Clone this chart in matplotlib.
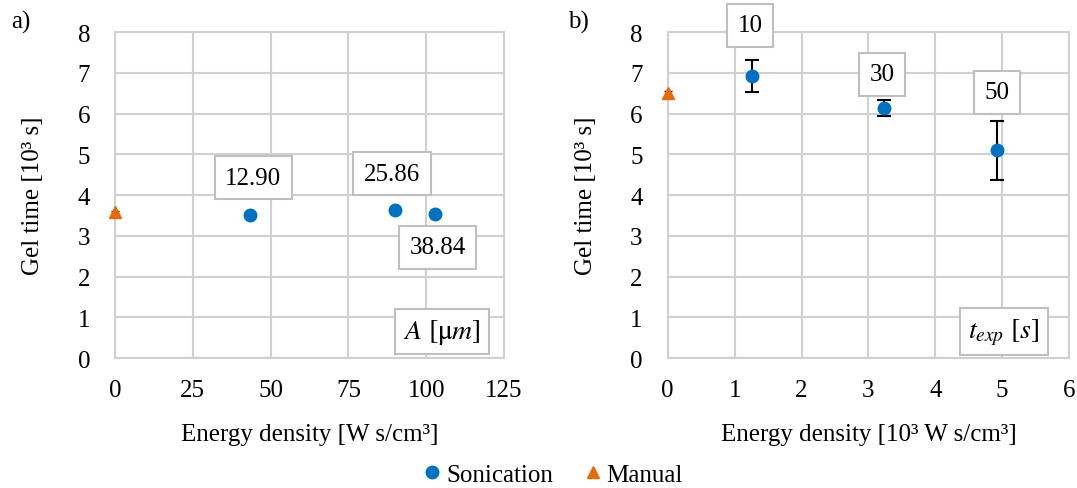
import matplotlib
matplotlib.use("Agg")
import matplotlib.pyplot as plt
from matplotlib.font_manager import FontProperties

plt.rcParams["font.family"] = ["Liberation Serif", "DejaVu Serif"]
plt.rcParams["mathtext.fontset"] = "stix"

BLUE = "#0070c0"
ORANGE = "#e36c09"
GRID = "#d0d0d0"
FS = 18

# panel a: amplitude series
a_son_x = [43.3, 90.1, 102.9]
a_son_y = [3.51, 3.63, 3.54]
a_son_lbl = ["12.90", "25.86", "38.84"]
a_lbl_xy = [(44.4, 4.42), (89.0, 4.52), (103.6, 2.72)]
a_man_x = [0.0]
a_man_y = [3.58]
a_man_err = [0.04]

# panel b: exposure time series
b_son_x = [1.26, 3.23, 4.92]
b_son_y = [6.92, 6.14, 5.10]
b_son_err = [0.39, 0.20, 0.72]
b_son_lbl = ["10", "30", "50"]
b_lbl_xy = [(1.23, 8.17), (3.20, 6.96), (4.92, 6.52)]
b_man_x = [0.0]
b_man_y = [6.51]
b_man_err = [0.05]

a_xticks = [0, 25, 50, 75, 100, 125]
b_xticks = [0, 1, 2, 3, 4, 5, 6]
yticks = list(range(9))

fig = plt.figure(figsize=(10.77, 4.89), dpi=100)
axa = fig.add_axes([0.1068, 0.2658, 0.3612, 0.6667])
axb = fig.add_axes([0.6200, 0.2658, 0.3726, 0.6667])

box = dict(boxstyle="square,pad=0.42", fc="white", ec="#bfbfbf", lw=1.5)


def style(ax, xt, xlabel):
    ax.set_xlim(xt[0], xt[-1]); ax.set_ylim(0, 8)
    ax.set_xticks(xt); ax.set_yticks(yticks)
    ax.grid(True, color=GRID, lw=1.5); ax.set_axisbelow(True)
    for s in ax.spines.values():
        s.set_color(GRID); s.set_linewidth(1.5)
    ax.tick_params(length=0, labelsize=FS)
    ax.tick_params(axis="y", pad=18)
    ax.tick_params(axis="x", pad=15)
    ax.set_xlabel(xlabel, fontsize=FS, labelpad=16)
    ax.set_ylabel("Gel time [10³ s]", fontsize=FS, labelpad=24)


style(axa, a_xticks, "Energy density [W s/cm³]")
axa.errorbar(a_man_x, a_man_y, yerr=a_man_err, fmt="^", color=ORANGE, ms=9,
             ecolor="k", elinewidth=1, capsize=3, clip_on=False, zorder=3)
axa.plot(a_son_x, a_son_y, "o", color=BLUE, ms=9, zorder=3)
for (x, y), t in zip(a_lbl_xy, a_son_lbl):
    axa.text(x, y, t, fontsize=FS, ha="center", va="center", bbox=box)
axa.text(105.0, 0.65, r"$A\ [\mathrm{\mu}m]$", fontsize=FS + 2, ha="center", va="center",
         bbox=dict(boxstyle="square,pad=0.3", fc="white", ec="#bfbfbf", lw=1.5))

style(axb, b_xticks, "Energy density [10³ W s/cm³]")
axb.errorbar(b_man_x, b_man_y, yerr=b_man_err, fmt="^", color=ORANGE, ms=9,
             ecolor="k", elinewidth=1, capsize=3, clip_on=False, zorder=3)
axb.errorbar(b_son_x, b_son_y, yerr=b_son_err, fmt="o", color=BLUE, ms=9,
             ecolor="k", elinewidth=1.5, capsize=5, capthick=1.5, zorder=3)
for (x, y), t in zip(b_lbl_xy, b_son_lbl):
    axb.text(x, y, t, fontsize=FS, ha="center", va="center", bbox=box, clip_on=False)
axb.text(5.03, 0.65, r"$t_{exp}\ [s]$", fontsize=FS + 2, ha="center", va="center",
         bbox=dict(boxstyle="square,pad=0.3", fc="white", ec="#bfbfbf", lw=1.5))

fig.text(0.010, 0.955, "a)", fontsize=FS, va="center")
fig.text(0.527, 0.955, "b)", fontsize=FS, va="center")

h1, = axa.plot([], [], "o", color=BLUE, ms=9)
h2, = axa.plot([], [], "^", color=ORANGE, ms=9)
fig.legend([h1, h2], ["Sonication", "Manual"], loc="center", bbox_to_anchor=(0.512, 0.027),
           ncol=2, frameon=False, prop=FontProperties(family="Liberation Serif", size=FS),
           handletextpad=0.05, columnspacing=1.1, handlelength=1.0)

fig.savefig("out.png", dpi=100)
